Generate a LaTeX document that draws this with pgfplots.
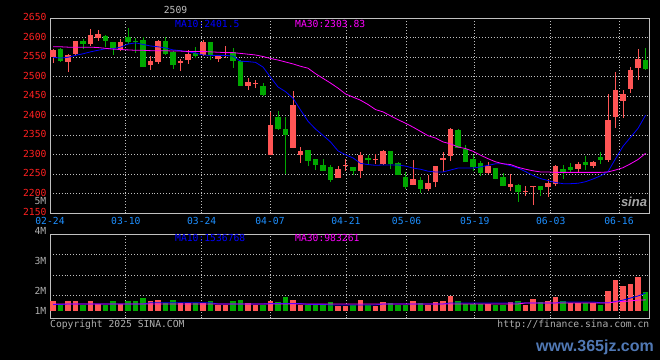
\documentclass[border=0pt]{standalone}
\usepackage{pgfplots}
\pgfplotsset{compat=1.18}
\usepackage{pgfplotstable}
\usepackage{fontspec}
\setmainfont{DejaVu Sans}
\setmonofont{DejaVu Sans Mono}
\newfontfamily\wmfont{Liberation Sans}
\definecolor{upred}{RGB}{255,85,85}
\definecolor{dngreen}{RGB}{0,168,0}
\definecolor{mablue}{RGB}{0,0,255}
\definecolor{mamag}{RGB}{255,0,255}
\definecolor{gridgray}{RGB}{192,192,192}
\definecolor{ticred}{RGB}{255,32,32}
\definecolor{datblue}{RGB}{30,144,255}
\definecolor{txtgray}{RGB}{176,176,176}
\definecolor{wmblue}{RGB}{80,120,180}

\pgfplotstableread{
i o h l c
0 2550 2572 2535 2569
2 2539 2559 2512 2555
3 2559 2593 2554 2592
5 2584 2623 2579 2607
6 2600 2619 2593 2610
9 2569 2597 2565 2589
13 2530 2553 2518 2541
14 2538 2595 2533 2592
17 2536 2546 2515 2541
18 2543 2569 2533 2559
20 2556 2595 2554 2589
22 2546 2554 2538 2553
23 2561 2579 2548 2564
26 2477 2497 2466 2487
27 2482 2492 2471 2484
29 2300 2410 2299 2377
32 2318 2464 2317 2428
33 2300 2320 2279 2310
38 2241 2271 2240 2264
39 2271 2289 2259 2274
41 2259 2307 2241 2300
43 2287 2302 2276 2289
44 2276 2312 2275 2310
48 2223 2287 2222 2238
50 2212 2248 2207 2228
51 2230 2272 2217 2271
52 2287 2307 2256 2292
53 2297 2369 2284 2366
58 2253 2282 2252 2271
61 2217 2251 2207 2225
63 2205 2220 2194 2207
64 2217 2221 2171 2220
66 2217 2238 2192 2228
67 2225 2274 2220 2271
70 2264 2282 2253 2276
72 2271 2283 2266 2282
74 2287 2456 2282 2389
75 2397 2512 2369 2466
76 2438 2466 2394 2456
77 2469 2525 2459 2518
78 2523 2571 2492 2546
}\upcandles

\pgfplotstableread{
i o h l c
1 2572 2574 2538 2540
4 2592 2598 2572 2584
7 2605 2606 2577 2592
8 2589 2590 2557 2574
10 2602 2625 2583 2589
11 2591 2600 2561 2589
12 2595 2602 2524 2525
15 2592 2602 2555 2559
16 2564 2566 2520 2530
19 2561 2577 2548 2554
21 2589 2590 2543 2556
24 2564 2574 2523 2541
25 2541 2543 2476 2477
28 2477 2484 2452 2453
30 2397 2412 2364 2366
31 2366 2397 2251 2351
34 2312 2313 2271 2284
35 2289 2290 2261 2274
36 2274 2289 2258 2259
37 2269 2274 2230 2235
40 2269 2270 2248 2259
42 2292 2300 2276 2287
45 2310 2311 2264 2276
46 2279 2281 2247 2248
47 2243 2256 2212 2217
49 2235 2243 2202 2212
54 2364 2365 2317 2318
55 2315 2325 2281 2282
56 2289 2300 2259 2269
57 2279 2284 2246 2253
59 2266 2267 2237 2238
60 2243 2253 2219 2220
62 2223 2224 2179 2205
65 2220 2221 2194 2210
68 2264 2274 2238 2256
69 2269 2279 2253 2261
71 2282 2297 2261 2274
73 2294 2307 2276 2287
79 2543 2574 2518 2520
}\downcandles

\pgfplotstableread{
i ma10 ma30
0 2550 2577
1 2548 2577
2 2550 2576
3 2555 2576
4 2559 2576
5 2564 2576
6 2568 2575
7 2572 2573
8 2572 2571
9 2576 2570
10 2584 2569
11 2587 2568
12 2583 2568
13 2579 2567
14 2577 2567
15 2574 2567
16 2569 2566
17 2567 2566
18 2564 2565
19 2561 2565
20 2556 2565
21 2555 2564
22 2555 2563
23 2555 2562
24 2553 2562
25 2540 2560
26 2539 2558
27 2537 2556
28 2525 2552
29 2499 2547
30 2474 2543
31 2462 2538
32 2445 2533
33 2415 2527
34 2386 2522
35 2366 2508
36 2350 2496
37 2333 2484
38 2310 2471
39 2300 2456
40 2292 2448
41 2278 2440
42 2275 2429
43 2273 2416
44 2274 2410
45 2274 2400
46 2274 2390
47 2271 2381
48 2266 2371
49 2263 2360
50 2258 2349
51 2256 2343
52 2256 2333
53 2261 2328
54 2266 2320
55 2266 2316
56 2266 2309
57 2269 2299
58 2273 2290
59 2277 2282
60 2277 2277
61 2272 2275
62 2266 2268
63 2257 2263
64 2247 2259
65 2239 2256
66 2234 2256
67 2229 2255
68 2226 2255
69 2226 2255
70 2227 2255
71 2231 2255
72 2238 2255
73 2246 2255
74 2257 2256
75 2290 2261
76 2322 2267
77 2345 2277
78 2368 2288
79 2401.5 2303.83
}\priceMA

\pgfplotstableread{
i v
0 0.74
2 0.74
3 0.74
5 0.74
6 0.60
9 0.60
13 0.74
14 0.79
17 0.65
18 0.65
20 0.65
22 0.55
23 0.55
26 0.65
27 0.55
29 0.74
32 0.79
33 0.55
38 0.50
39 0.50
41 0.79
43 0.50
44 0.69
48 0.74
50 0.55
51 0.69
52 0.74
53 0.99
58 0.60
61 0.69
63 0.55
64 0.84
66 0.74
67 0.94
69 0.65
70 0.65
72 0.65
74 1.23
75 1.77
76 1.48
77 1.57
78 1.91
}\volup

\pgfplotstableread{
i v
1 0.55
4 0.55
7 0.55
8 0.74
10 0.74
11 0.74
12 0.89
15 0.65
16 0.79
19 0.65
21 0.74
24 0.74
25 0.79
28 0.55
30 0.69
31 0.94
34 0.55
35 0.55
36 0.55
37 0.69
40 0.55
42 0.55
45 0.65
46 0.55
47 0.55
49 0.65
54 0.74
55 0.60
56 0.60
57 0.60
59 0.55
60 0.55
62 0.74
65 0.69
68 0.74
71 0.65
73 0.55
79 1.18
}\voldown

\pgfplotstableread{
i ma10 ma30
0 0.57 0.60
1 0.57 0.60
2 0.60 0.60
12 0.60 0.60
13 0.66 0.60
21 0.66 0.60
22 0.60 0.60
28 0.60 0.60
29 0.62 0.60
33 0.62 0.60
34 0.58 0.60
36 0.58 0.60
37 0.55 0.60
43 0.55 0.60
44 0.60 0.60
52 0.60 0.60
53 0.65 0.60
62 0.65 0.60
63 0.65 0.65
67 0.65 0.65
68 0.70 0.65
72 0.70 0.65
73 0.66 0.65
74 0.66 0.65
75 0.72 0.70
76 0.79 0.72
77 0.89 0.75
78 0.99 0.79
79 1.13 0.80
}\volMA

\pgfplotsset{
  sina/.style={
    scale only axis, width=599.3pt, anchor=south west,
    xmin=-0.4, xmax=79.5,
    axis line style={gridgray, line width=0.8pt},
    grid=major,
    major grid style={gridgray, dash pattern=on 0.9pt off 2pt, line width=0.8pt},
    tick style={draw=none},
    xtick={-0.4,9.71,19.83,28.93,39.05,47.14,56.24,66.36,75.46},
    tick label style={font=\ttfamily\fontsize{9.7pt}{11pt}\selectfont},
  },
  wick/.style={draw=none, mark=none, forget plot,
    error bars/.cd, y dir=plus, y explicit, error mark=none,
    error bar style={draw=#1, line width=1pt}},
  body/.style={draw=none, mark=none, forget plot,
    error bars/.cd, y dir=plus, y explicit, error mark=none,
    error bar style={draw=#1, line width=5.7pt}},
}

\begin{document}
\begin{tikzpicture}
\fill[black] (0pt,0pt) rectangle (660pt,360pt);
\path[use as bounding box] (0pt,0pt) rectangle (660pt,360pt);

% price panel
\begin{axis}[sina, at={(50pt,146.7pt)}, height=195pt,
  ymin=2150, ymax=2650,
  ytick={2150,2200,2250,2300,2350,2400,2450,2500,2550,2600,2650},
  yticklabels={2150,2200,2250,2300,2350,2400,2450,2500,2550,2600,2650},
  yticklabel style={text=ticred, yshift=1pt},
  xticklabels={02-24,03-10,03-24,04-07,04-21,05-06,05-19,06-03,06-16},
  xticklabel style={text=datblue, anchor=base, yshift=-10.7pt},
]
\addplot[wick=upred] table[x=i, y=l, y error expr=\thisrow{h}-\thisrow{l}] {\upcandles};
\addplot[body=upred] table[x=i, y=o, y error expr=\thisrow{c}-\thisrow{o}] {\upcandles};
\addplot[wick=dngreen] table[x=i, y=l, y error expr=\thisrow{h}-\thisrow{l}] {\downcandles};
\addplot[body=dngreen] table[x=i, y=c, y error expr=\thisrow{o}-\thisrow{c}] {\downcandles};
\addplot[mablue, line width=0.8pt, mark=none] table[x=i, y=ma10] {\priceMA};
\addplot[mamag, line width=0.8pt, mark=none] table[x=i, y=ma30] {\priceMA};
\end{axis}

% volume panel
\begin{axis}[sina, at={(50pt,41.7pt)}, height=84pt,
  ymin=-0.1, ymax=4, ytick={1,2,3},
  xmajorticks=false, ymajorticks=false,
]
\addplot[body=upred] table[x=i, y expr=0.27, y error expr=\thisrow{v}-0.27] {\volup};
\addplot[body=dngreen] table[x=i, y expr=0.27, y error expr=\thisrow{v}-0.27] {\voldown};
\addplot[mablue, line width=0.8pt, mark=none] table[x=i, y=ma10] {\volMA};
\addplot[mamag, line width=0.8pt, mark=none] table[x=i, y=ma30] {\volMA};
\end{axis}

\tikzset{lbl/.style={inner sep=0pt, font=\ttfamily\fontsize{9.7pt}{11pt}\selectfont}}
\node[lbl, text=gridgray, anchor=base] at (175.5pt,346.7pt) {2509};
\node[lbl, text=mablue, anchor=base west] at (175pt,332.7pt) {MA10:2401.5};
\node[lbl, text=mamag, anchor=base west] at (295pt,332.7pt) {MA30:2303.83};
\node[lbl, text=mablue, anchor=base west] at (175pt,118.3pt) {MA10:1536768};
\node[lbl, text=mamag, anchor=base west] at (295pt,118.3pt) {MA30:983261};
\node[lbl, text=txtgray, anchor=base east] at (46.5pt,155.3pt) {5M};
\node[lbl, text=txtgray, anchor=base east] at (46.5pt,126pt) {4M};
\node[lbl, text=txtgray, anchor=base east] at (46.5pt,96pt) {3M};
\node[lbl, text=txtgray, anchor=base east] at (46.5pt,66pt) {2M};
\node[lbl, text=txtgray, anchor=base east] at (46.5pt,46pt) {1M};
\node[lbl, text=txtgray, anchor=base west] at (50pt,32.7pt) {Copyright 2025 SINA.COM};
\node[lbl, text=txtgray, anchor=base east] at (649.5pt,32.7pt) {http://finance.sina.com.cn};
\node[inner sep=0pt, text=gray!70!white, font=\wmfont\bfseries\itshape\fontsize{13pt}{13pt}\selectfont] at (634pt,158pt) {sina};
\node[inner sep=0pt, anchor=base, text=wmblue, font=\wmfont\bfseries\fontsize{16pt}{16pt}\selectfont] at (595pt,9pt) {www.365jz.com};
\end{tikzpicture}
\end{document}
